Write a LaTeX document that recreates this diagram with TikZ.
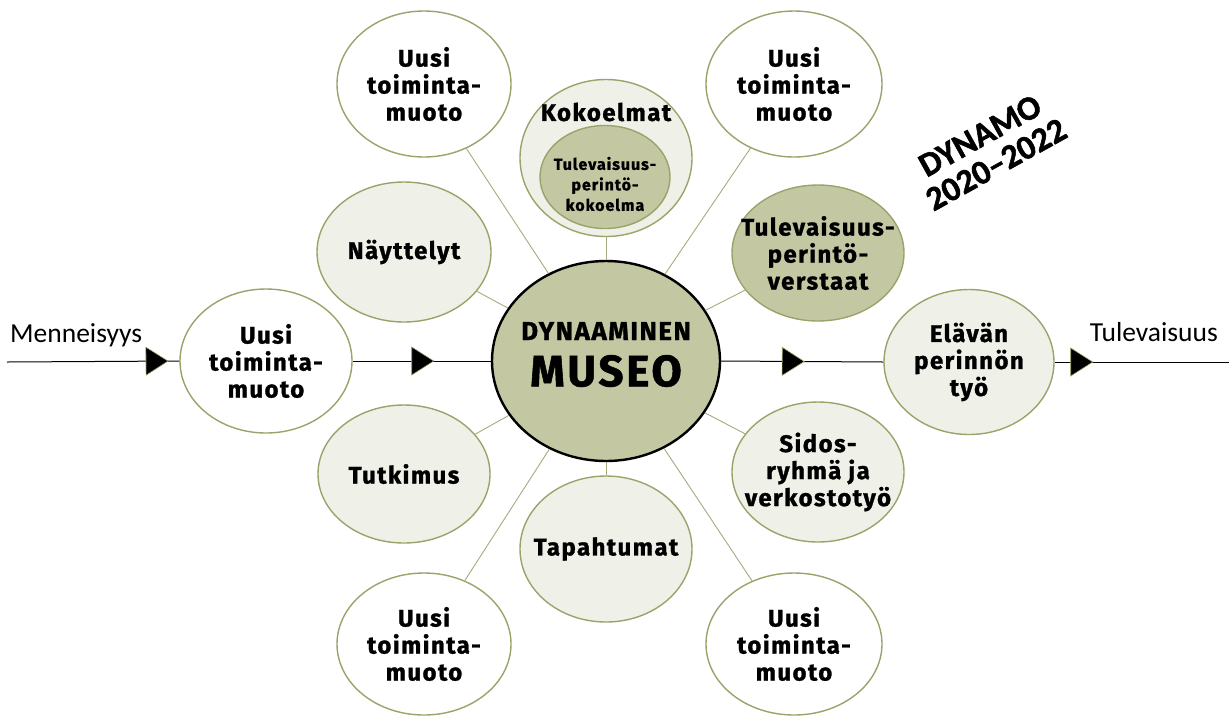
\documentclass[tikz,border=0pt]{standalone}
\usepackage{fontspec}
\setmainfont{Fira Sans}[BoldFeatures={FakeBold=1.2,LetterSpace=6}]
\newfontfamily\calfont{Carlito}[BoldFeatures={FakeBold=1.5}]
\usetikzlibrary{shapes.geometric,decorations.markings}
\definecolor{olivec}{HTML}{9BA36A}
\definecolor{lightf}{HTML}{EFF0E8}
\definecolor{darkf}{HTML}{C3C8A3}
\definecolor{linec}{HTML}{A5AB7E}
\begin{document}
\begin{tikzpicture}[x=1pt,y=-1pt,
  bub/.style={ellipse, draw=olivec, line width=1.4pt, inner sep=0pt},
  btext/.style={label={[align=center, inner sep=0pt, font=\fontsize{24}{27}\selectfont\bfseries]center:#1}},
  sz/.style 2 args={minimum width=#1, minimum height=#2},
  conn/.style={draw=linec, line width=0.9pt},
  timeline/.style={draw=black, line width=1pt},
  tipat/.style={postaction={decorate}, decoration={markings,
    mark=at position #1 with {\filldraw[fill=black, draw=olivec, line width=0.6pt]
      (-22pt,-14pt) -- (0pt,0pt) -- (-22pt,14pt) -- cycle;}}},
  side/.style={font=\calfont\fontsize{27.5}{30}\selectfont}
]
\useasboundingbox (0,0) rectangle (1229,716);

% outer nodes
\node[bub, sz={174}{146}, fill=white, btext={Uusi\\toiminta-\\muoto}] (ul) at (424,84) {};
\node[bub, sz={176}{146}, fill=white, btext={Uusi\\toiminta-\\muoto}] (ur) at (794,84) {};
\node[bub, sz={174}{140}, fill=lightf, btext={Näyttelyt}] (nay) at (404,252) {};
\node[bub, sz={172}{136}, fill=darkf, btext={Tulevaisuus-\\perintö-\\verstaat}] (ver) at (818,253) {};
\node[bub, sz={172}{144}, fill=white, btext={Uusi\\toiminta-\\muoto}] (lu) at (266,361) {};
\node[bub, sz={170}{145}, fill=lightf, btext={Elävän\\perinnön\\työ}] (ela) at (969,362) {};
\node[bub, sz={172}{138}, fill=lightf, btext={Tutkimus}] (tut) at (404,474) {};
\node[bub, sz={172}{140}, fill=lightf, btext={Sidos-\\ryhmä ja\\verkostotyö}] (sid) at (818,472) {};
\node[bub, sz={172}{146}, fill=lightf, btext={Tapahtumat}] (tap) at (606,549) {};
\node[bub, sz={174}{142}, fill=white, btext={Uusi\\toiminta-\\muoto}] (bl) at (424,644) {};
\node[bub, sz={176}{142}, fill=white, btext={Uusi\\toiminta-\\muoto}] (br) at (794,644) {};

% Kokoelmat
\node[bub, sz={172}{157}, fill=lightf] (kok) at (606,158) {};
\node[font=\fontsize{24}{27}\selectfont\bfseries] (koklab) at (606,112) {Kokoelmat};
\node[bub, sz={130}{103}, fill=darkf] (kin) at (605,177) {};
\node[align=center, inner sep=0pt, font=\fontsize{16}{20.5}\selectfont\bfseries] (kintext) at (605,184) {Tulevaisuus-\\perintö-\\kokoelma};

% center
\node[ellipse, draw=black, line width=2.4pt, fill=darkf, sz={228}{200}, inner sep=0pt] (c) at (606,361) {};
\node[font=\fontsize{26}{30}\selectfont\bfseries, inner sep=0pt] (c1) at (606,331) {DYNAAMINEN};
\node[font=\fontsize{44}{48}\selectfont\bfseries, inner sep=0pt] (c2) at (606,371) {MUSEO};

% connectors
\foreach \n in {ul,ur,nay,ver,tut,sid,tap,bl,br,kok}
  \draw[conn] (c) -- (\n);

% timeline
\coordinate (tstart) at (7,362);
\coordinate (tend) at (1229,362);
\draw[timeline, tipat=161pt] (tstart) -- (lu.west);
\draw[timeline, tipat=81pt] (lu.east) -- (c.west);
\draw[timeline, tipat=83pt] (c.east) -- (ela.west);
\draw[timeline, tipat=38pt] (ela.east) -- (tend);

\node[side, anchor=base west, inner sep=0pt] (past) at (10,342) {Menneisyys};
\node[side, anchor=base east, inner sep=0pt] (future) at (1218,341) {Tulevaisuus};

% DYNAMO label
\node[rotate=29, align=center, inner sep=1pt, font=\calfont\fontsize{34}{33}\selectfont\bfseries] (dyn) at (988,150) {DYNAMO\\2020–2022};
\end{tikzpicture}
\end{document}
